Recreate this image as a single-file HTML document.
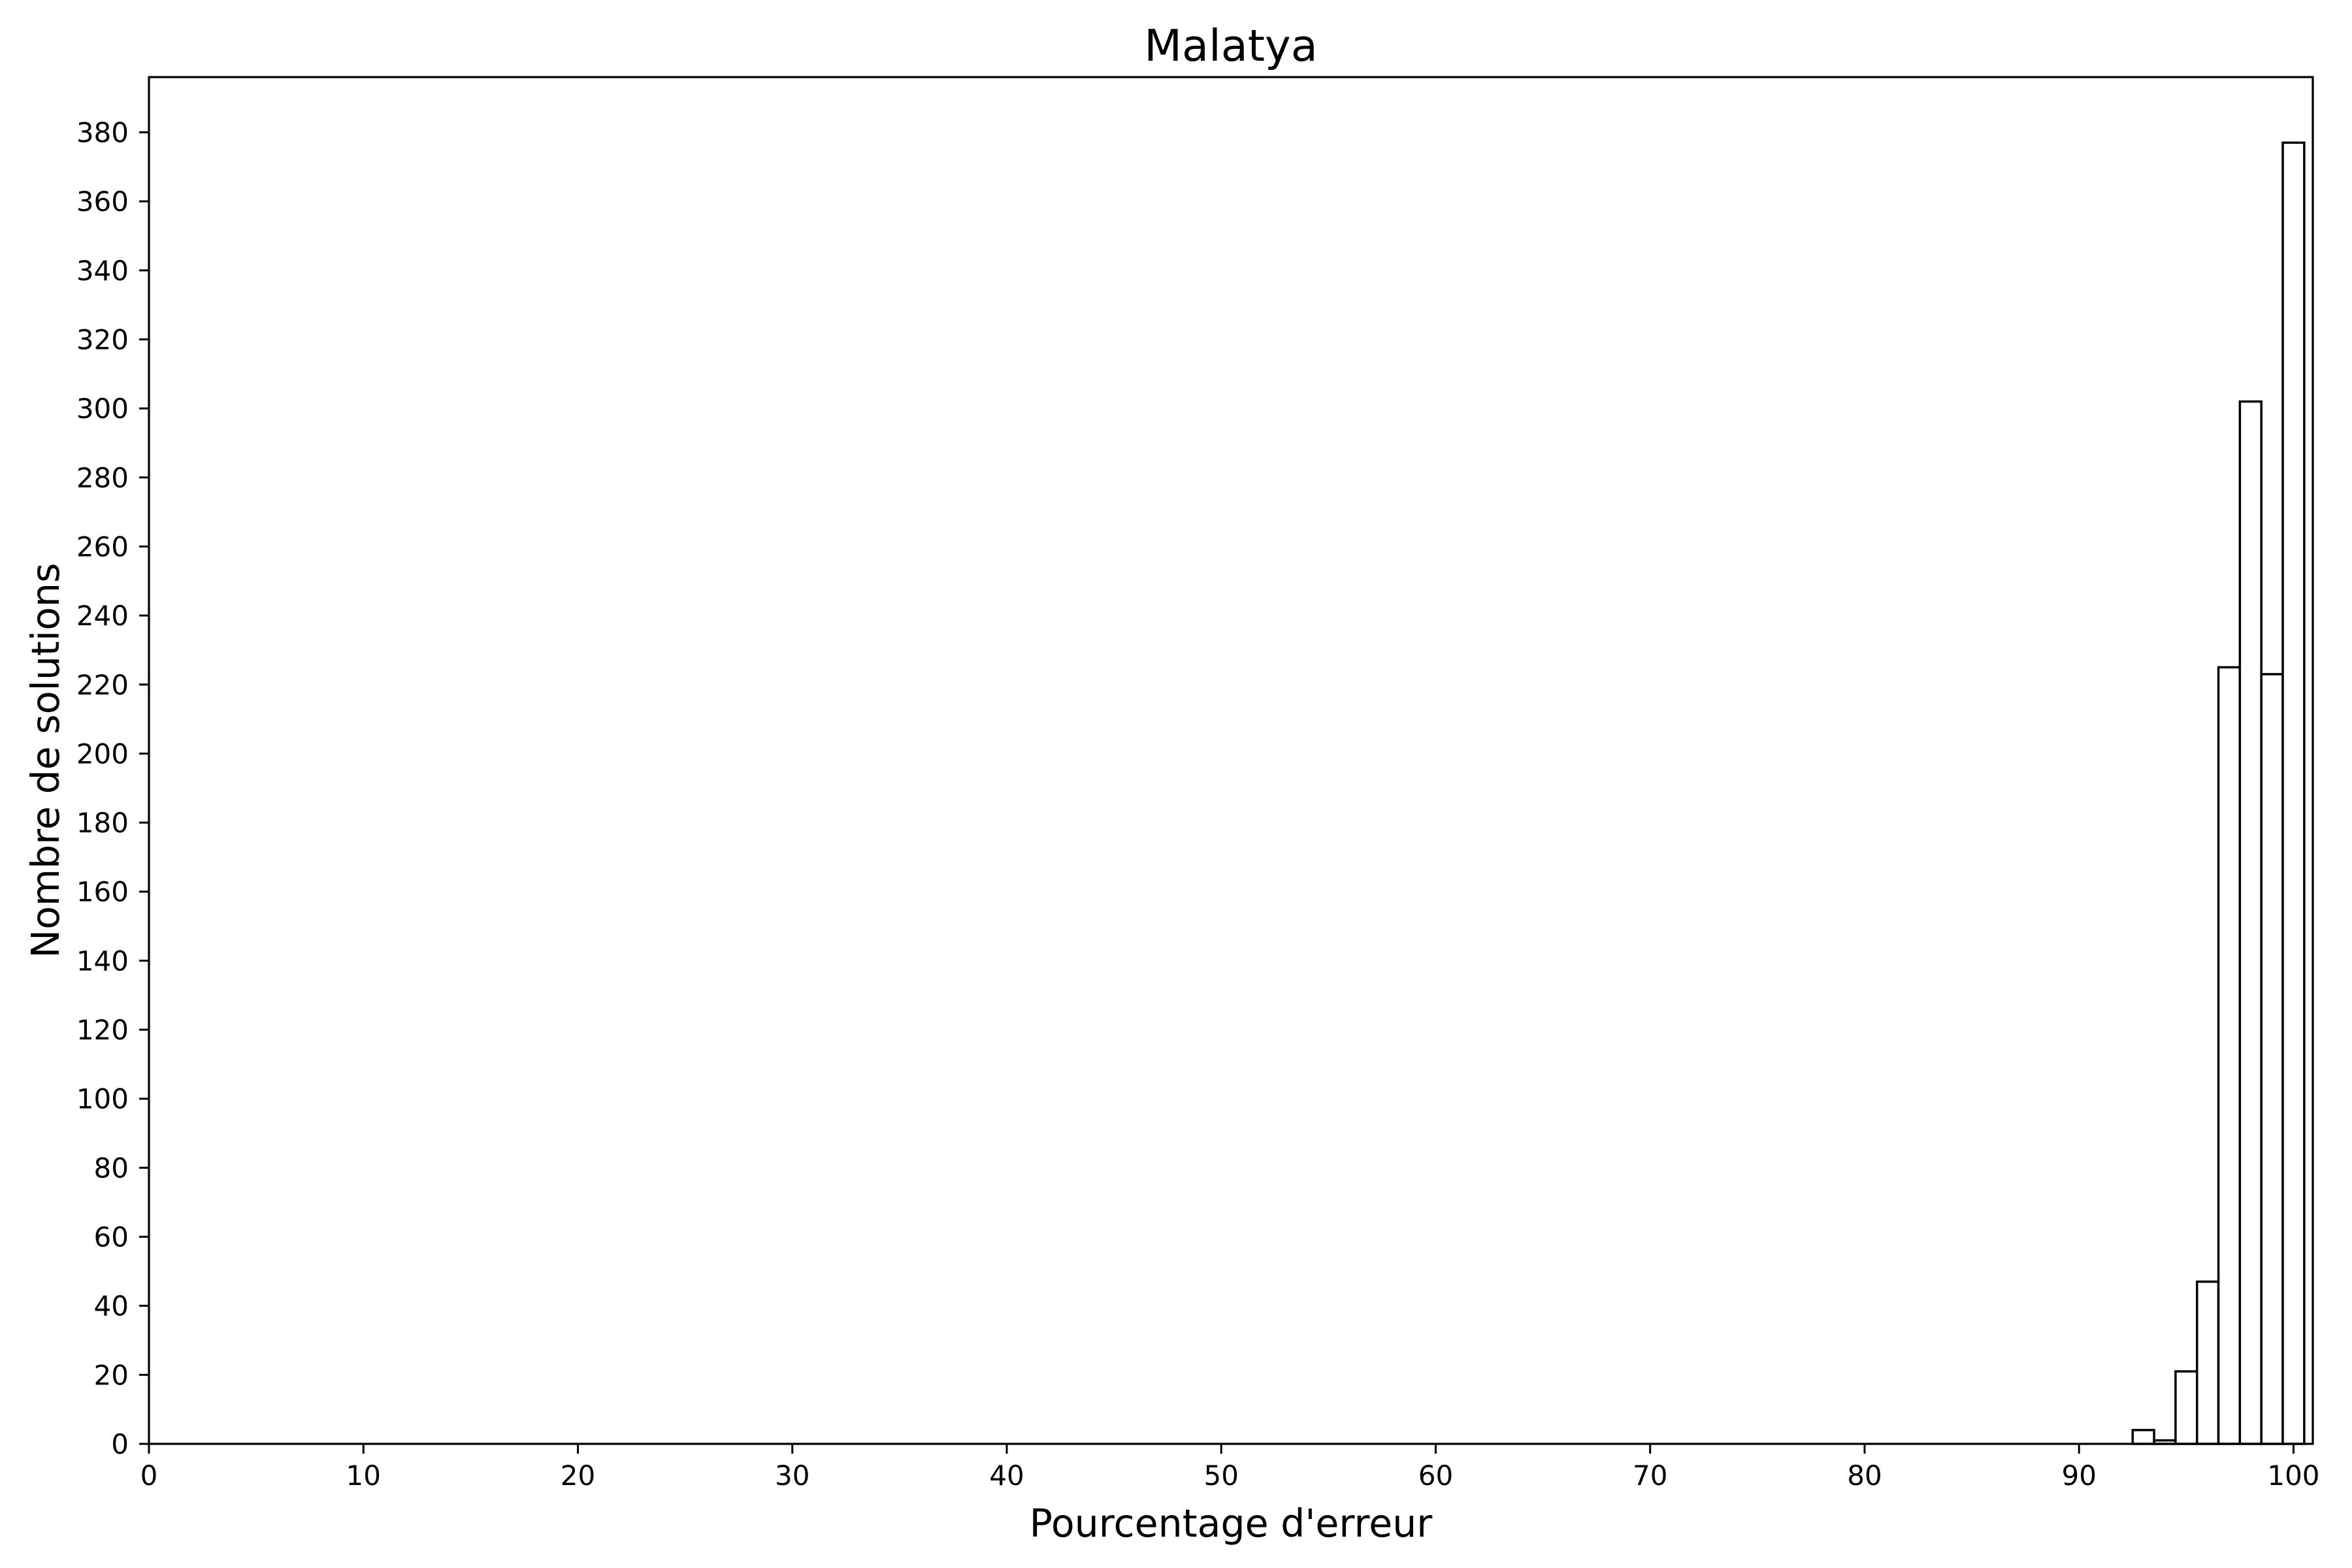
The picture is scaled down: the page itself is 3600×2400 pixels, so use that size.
<!DOCTYPE html>
<html><head><meta charset="utf-8"><style>
html,body{margin:0;padding:0;background:#fff;}
svg{display:block;font-family:"DejaVu Sans","Liberation Sans",sans-serif;}
</style></head><body>
<svg id="chart" width="3600" height="2400" viewBox="0 0 3600 2400" xmlns="http://www.w3.org/2000/svg">
<rect width="3600" height="2400" fill="#fff"/>
<g id="bars"></g>
<g id="axes"></g>
<text x="1884" y="93" font-size="67" text-anchor="middle">Malatya</text>
<text x="1884" y="2352" font-size="58.5" text-anchor="middle">Pourcentage d'erreur</text>
<text transform="translate(90,1164) rotate(-90)" font-size="58.5" text-anchor="middle">Nombre de solutions</text>
</svg>
<script>
const binEdges = [92.5, 93.5, 94.5, 95.5, 96.5, 97.5, 98.5, 99.5, 100.5];
const counts = [4, 1, 21, 47, 225, 302, 223, 377];
const xTicks = [0, 10, 20, 30, 40, 50, 60, 70, 80, 90, 100];
const yTicks = [0, 20, 40, 60, 80, 100, 120, 140, 160, 180, 200, 220, 240, 260, 280, 300, 320, 340, 360, 380];

const L = 228, R = 3540, T = 118, B = 2210;
const xMin = 0, xMax = 100.9, yMin = 0, yMax = 396;
function sx(v) { return L + (v - xMin) / (xMax - xMin) * (R - L); }
function sy(v) { return B - (v - yMin) / (yMax - yMin) * (B - T); }
const NS = 'http://www.w3.org/2000/svg';
function mk(tag, attrs, parent) {
  const e = document.createElementNS(NS, tag);
  for (const k in attrs) e.setAttribute(k, attrs[k]);
  parent.appendChild(e);
  return e;
}
const bars = document.getElementById('bars');
counts.forEach((c, i) => {
  const x0 = sx(binEdges[i]), x1 = sx(binEdges[i + 1]);
  const r = mk('rect', {x: x0, y: sy(c), width: x1 - x0, height: sy(0) - sy(c), fill: '#fff', stroke: '#000', 'stroke-width': 3.5}, bars);
  
  
});
const axes = document.getElementById('axes');
const frame = mk('rect', {x: L, y: T, width: R - L, height: B - T, fill: 'none', stroke: '#000', 'stroke-width': 3.2}, axes);


xTicks.forEach(t => {
  const x = sx(t);
  const tk = mk('line', {x1: x, x2: x, y1: B, y2: B + 15, stroke: '#000', 'stroke-width': 3}, axes);
  
  
  const lb = mk('text', {x: x, y: B + 63, 'font-size': 42, 'text-anchor': 'middle'}, axes);
  lb.textContent = t;
  
  
});
yTicks.forEach(t => {
  const y = sy(t);
  const tk = mk('line', {x1: L - 15, x2: L, y1: y, y2: y, stroke: '#000', 'stroke-width': 3}, axes);
  
  
  const lb = mk('text', {x: L - 31, y: y + 15, 'font-size': 42, 'text-anchor': 'end'}, axes);
  lb.textContent = t;
  
  
});
</script>
</body></html>
